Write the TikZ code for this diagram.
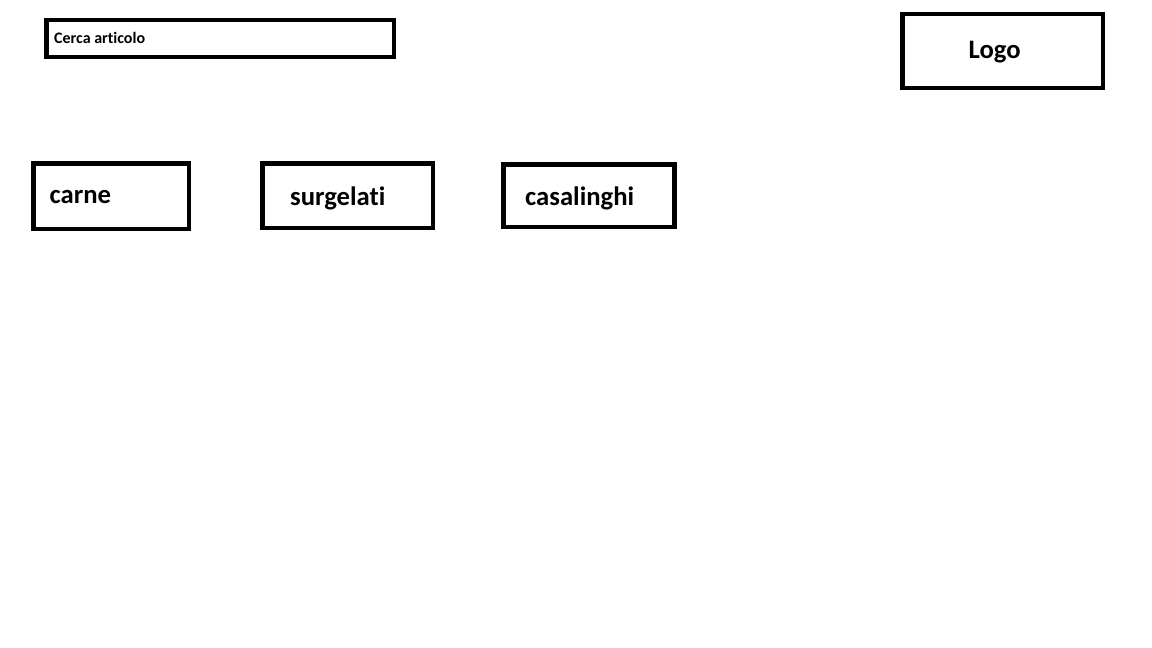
\documentclass[tikz,border=0pt]{standalone}
\usepackage{fontspec}
\setmainfont{Carlito}[Ligatures={NoCommon}]
\begin{document}
\begin{tikzpicture}[x=1pt,y=-1pt,
  box/.style={draw=black, line width=4.5pt, inner sep=0pt, outer sep=0pt, anchor=north west, fill=none},
  lbl/.style={anchor=base west, inner sep=0pt, font=\fontsize{26.67}{30}\selectfont\bfseries},
  smalllbl/.style={anchor=base west, inner sep=0pt, font=\fontsize{16}{18}\selectfont\bfseries}]
\useasboundingbox[fill=white] (0,0) rectangle (1152,648);
% boxes
\node[box, minimum width=347.5pt, minimum height=37pt] (search) at (46.25,19.75) {};
\node[box, minimum width=200.5pt, minimum height=73.75pt] (logo) at (902.25,14) {};
\node[box, minimum width=155.5pt, minimum height=65.5pt] (carne) at (33.25,163.25) {};
\node[box, minimum width=170.5pt, minimum height=64.5pt] (surgelati) at (262.25,163.25) {};
\node[box, minimum width=171.25pt, minimum height=62.25pt] (casalinghi) at (503.25,164.5) {};
% texts
\node[smalllbl] (searchtxt) at (54,43.3) {Cerca articolo};
\node[lbl] (logotxt) at (968.5,58.3) {Logo};
\node[lbl] (carnetxt) at (49.5,203) {carne};
\node[lbl] (surgtxt) at (290,205.5) {surgelati};
\node[lbl] (casatxt) at (525,205.5) {casalinghi};
\end{tikzpicture}
\end{document}
